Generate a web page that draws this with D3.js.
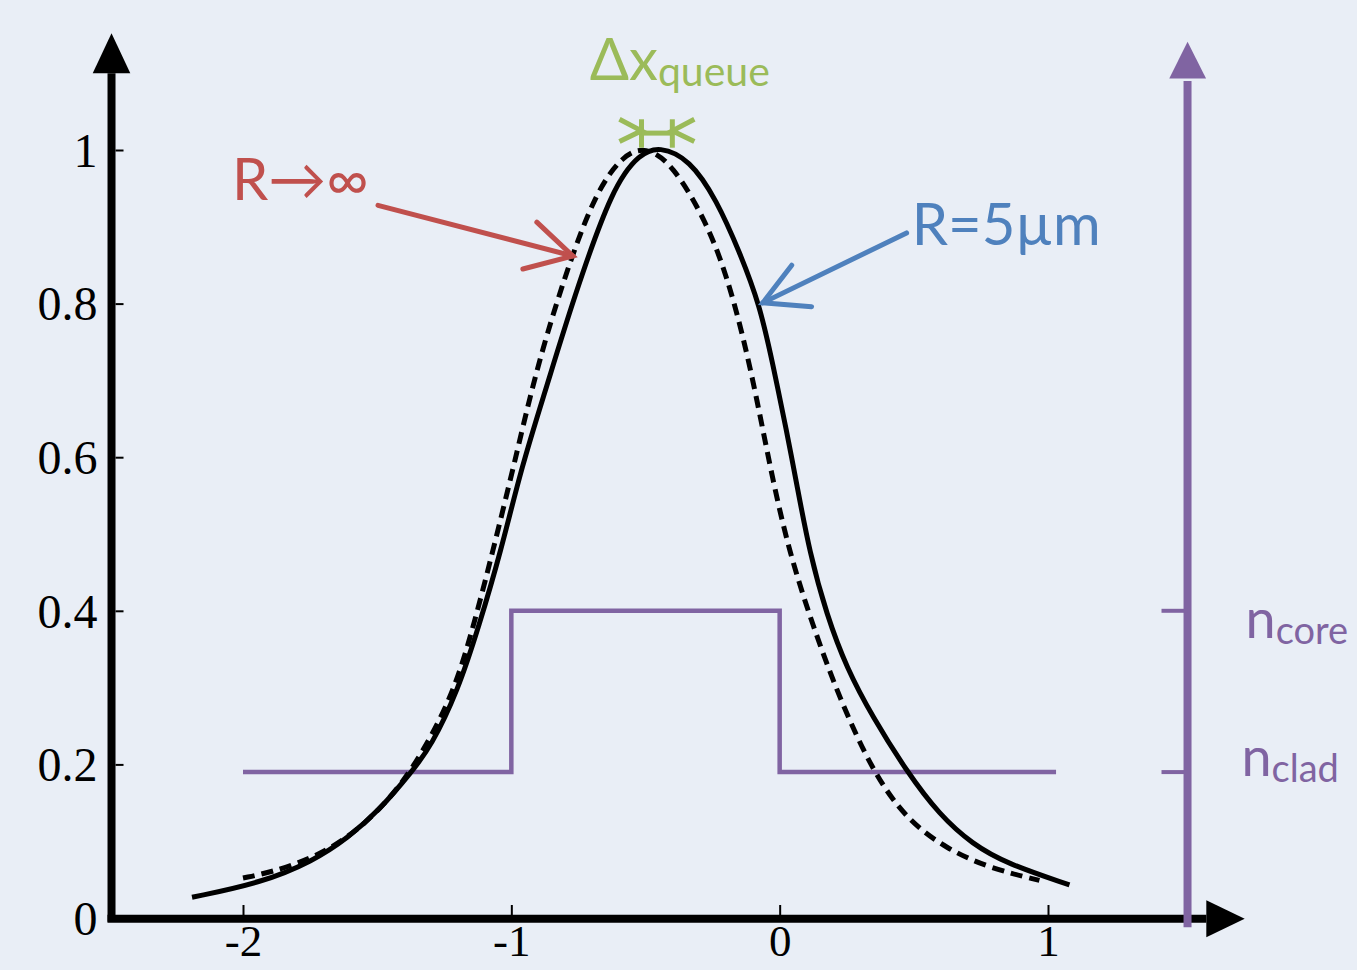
<!DOCTYPE html>
<html>
<head>
<meta charset="utf-8">
<script src="https://cdn.jsdelivr.net/npm/d3@7"></script>
<style>
body { margin: 0; background: #e9eef6; }
svg { display: block; }
</style>
</head>
<body>
<svg width="1357" height="970"></svg>
<script>
// tick values and labels
var xTicks = [-2, -1, 0, 1];
var xTickLabels = ['-2', '-1', '0', '1'];
var yTicks = [0, 0.2, 0.4, 0.6, 0.8, 1];
var yTickLabels = ['0', '0.2', '0.4', '0.6', '0.8', '1'];

// mode profile for R = 5um (solid line)
var solidX = [-2.19, -1.93, -1.74, -1.61, -1.49, -1.37, -1.30, -1.20, -1.12, -1.04, -0.96, -0.87, -0.77, -0.62, -0.52, -0.45,
    -0.335, -0.235, -0.149, -0.074, -0.026, 0.026, 0.063, 0.112, 0.175, 0.25, 0.346, 0.473, 0.596, 0.719, 0.845, 1.08];
var solidY = [0.027, 0.046, 0.074, 0.104, 0.141, 0.191, 0.223, 0.295, 0.381, 0.476, 0.59, 0.69, 0.805, 0.955, 0.995, 1.005,
    0.988, 0.935, 0.867, 0.798, 0.722, 0.634, 0.566, 0.475, 0.395, 0.325, 0.262, 0.191, 0.134, 0.096, 0.071, 0.043];

// mode profile for R -> infinity (dashed line)
var dashX = [-2.0, -1.89, -1.74, -1.61, -1.49, -1.37, -1.22, -1.14, -1.07, -0.99, -0.93, -0.868, -0.782, -0.682, -0.585, -0.50,
    -0.399, -0.272, -0.197, -0.138, -0.086, -0.026, 0.037, 0.123, 0.223, 0.346, 0.473, 0.622, 0.782, 0.968];
var dashY = [0.052, 0.060, 0.078, 0.104, 0.141, 0.191, 0.286, 0.381, 0.476, 0.59, 0.68, 0.760, 0.855, 0.947, 0.993, 1.005,
    0.982, 0.906, 0.836, 0.760, 0.678, 0.570, 0.475, 0.381, 0.286, 0.191, 0.128, 0.090, 0.065, 0.049];

// step index profile
var profileX = [-2, -1, -1, 0, 0, 1.03];
var profileY = [0.19, 0.19, 0.40, 0.40, 0.19, 0.19];
var nLevels = [0.40, 0.19];
var nNames = ['core', 'clad'];
var nLabelX = [1.736, 1.721];
var nLabelY = [0.365, 0.185];

var black = '#000', purple = '#8064a2', red = '#c0504d', blue = '#4f81bd', green = '#9bbb59';
var sans = 'Lato, "Open Sans", sans-serif';

var svg = d3.select('svg');

var x = d3.scaleLinear().domain([-2, 1]).range([243, 1048]);
var y = d3.scaleLinear().domain([0, 1]).range([918, 150]);

var line = d3.line()
    .x(function(d) { return x(d[0]); })
    .y(function(d) { return y(d[1]); });

// axes lines with arrow heads
svg.append('line')
    .attr('x1', x(-2.49)).attr('x2', x(-2.49))
    .attr('y1', y(-0.005)).attr('y2', y(1.10))
    .attr('stroke', black).attr('stroke-width', 8);
svg.append('path')
    .attr('d', 'M' + [x(-2.49), y(1.152)] + 'L' + [x(-2.56), y(1.1)] + 'L' + [x(-2.42), y(1.1)] + 'Z')
    .attr('fill', black);
svg.append('line')
    .attr('x1', x(-2.505)).attr('x2', x(1.59))
    .attr('y1', y(-0.001)).attr('y2', y(-0.001))
    .attr('stroke', black).attr('stroke-width', 8);
svg.append('path')
    .attr('d', 'M' + [x(1.733), y(-0.001)] + 'L' + [x(1.59), y(0.023)] + 'L' + [x(1.59), y(-0.025)] + 'Z')
    .attr('fill', black);

// tick marks and labels
var yAxis = d3.axisLeft(y).tickValues(yTicks).tickSize(-8).tickPadding(14)
    .tickFormat(function(d, i) { return yTickLabels[i]; });
var yG = svg.append('g')
    .attr('transform', 'translate(' + (x(-2.49) + 4) + ',0)')
    .call(yAxis);
var xAxis = d3.axisBottom(x).tickValues(xTicks).tickSize(-10).tickPadding(14)
    .tickFormat(function(d, i) { return xTickLabels[i]; });
var xG = svg.append('g')
    .attr('transform', 'translate(0,' + (y(0) - 3) + ')')
    .call(xAxis);
[xG, yG].forEach(function(g) {
    g.select('.domain').remove();
    g.selectAll('.tick line').attr('stroke', black).attr('stroke-width', 2);
    g.selectAll('.tick text')
        .attr('fill', black)
        .style('font-family', '"Liberation Serif", "Times New Roman", serif')
        .style('font-size', '48px');
});
xG.selectAll('.tick text').attr('y', 41).attr('dy', null).style('font-size', '45px');
yG.selectAll('.tick text').attr('x', -18).attr('dy', '0.34em');

// index profile (purple)
svg.append('path')
    .datum(profileX.map(function(v, i) { return [v, profileY[i]]; }))
    .attr('d', line)
    .attr('fill', 'none')
    .attr('stroke', purple)
    .attr('stroke-width', 4.5);

// right purple axis
svg.append('line')
    .attr('x1', x(1.52)).attr('x2', x(1.52))
    .attr('y1', y(-0.012)).attr('y2', y(1.09))
    .attr('stroke', purple).attr('stroke-width', 8);
svg.append('path')
    .attr('d', 'M' + [x(1.52), y(1.141)] + 'L' + [x(1.452), y(1.093)] + 'L' + [x(1.589), y(1.093)] + 'Z')
    .attr('fill', purple);
svg.selectAll('.ntick')
    .data(nLevels)
    .enter().append('line')
    .attr('class', 'ntick')
    .attr('x1', x(1.423)).attr('x2', x(1.52))
    .attr('y1', function(d) { return y(d); })
    .attr('y2', function(d) { return y(d); })
    .attr('stroke', purple).attr('stroke-width', 4);
var nText = svg.selectAll('.nlabel')
    .data(nNames)
    .enter().append('text')
    .attr('class', 'nlabel')
    .attr('x', function(d, i) { return x(nLabelX[i]); })
    .attr('y', function(d, i) { return y(nLabelY[i]); })
    .attr('fill', purple)
    .style('font-family', sans)
    .style('font-size', '54px');
nText.append('tspan').text('n');
nText.append('tspan').attr('dy', 6).style('font-size', '38px').text(function(d) { return d; });

// mode curves
svg.append('path')
    .datum(solidX.map(function(v, i) { return [v, solidY[i]]; }))
    .attr('d', line.curve(d3.curveBasis))
    .attr('fill', 'none')
    .attr('stroke', black)
    .attr('stroke-width', 5);
svg.append('path')
    .datum(dashX.map(function(v, i) { return [v, dashY[i]]; }))
    .attr('d', line.curve(d3.curveBasis))
    .attr('fill', 'none')
    .attr('stroke', black)
    .attr('stroke-width', 5)
    .attr('stroke-dasharray', '12,7');

// annotations
function arrow(color, pts) {
    var g = svg.append('g').attr('stroke', color).attr('stroke-width', 5)
        .attr('stroke-linecap', 'round').attr('fill', 'none');
    g.append('line')
        .attr('x1', x(pts[0][0])).attr('y1', y(pts[0][1]))
        .attr('x2', x(pts[1][0])).attr('y2', y(pts[1][1]));
    g.append('path')
        .attr('d', 'M' + [x(pts[2][0]), y(pts[2][1])] + 'L' + [x(pts[1][0]), y(pts[1][1])] + 'L' + [x(pts[3][0]), y(pts[3][1])]);
}
arrow(red, [[-1.497, 0.928], [-0.771, 0.862], [-0.905, 0.906], [-0.957, 0.845]]);
arrow(blue, [[0.473, 0.892], [-0.063, 0.801], [0.045, 0.850], [0.119, 0.796]]);

svg.append('text')
    .attr('x', x(-2.041)).attr('y', y(0.935))
    .attr('fill', red)
    .style('font-family', sans)
    .style('font-size', '58px')
    .text('R→∞');
svg.append('text')
    .attr('x', x(0.492)).attr('y', y(0.876))
    .attr('fill', blue)
    .style('font-family', sans)
    .style('font-size', '58px')
    .text('R=5µm');

// delta x marker at the top of the peaks
var dq = svg.append('g').attr('stroke', green).attr('stroke-width', 5).attr('fill', 'none');
[-0.515, -0.40].forEach(function(v, i) {
    var s = i === 0 ? -1 : 1;
    dq.append('line')
        .attr('x1', x(v)).attr('x2', x(v))
        .attr('y1', y(1.003)).attr('y2', y(1.04));
    dq.append('path')
        .attr('d', 'M' + [x(v + s * 0.082), y(1.04)] + 'L' + [x(v), y(1.025)] + 'L' + [x(v + s * 0.082), y(1.011)]);
});
dq.append('line')
    .attr('x1', x(-0.515)).attr('x2', x(-0.40))
    .attr('y1', y(1.022)).attr('y2', y(1.022));
var dqText = svg.append('text')
    .attr('x', x(-0.708)).attr('y', y(1.091))
    .attr('fill', green)
    .style('font-family', sans)
    .style('font-size', '58px');
dqText.append('tspan').text('Δx');
dqText.append('tspan').attr('dy', 6).style('font-size', '41px').text('queue');
</script>
</body>
</html>
